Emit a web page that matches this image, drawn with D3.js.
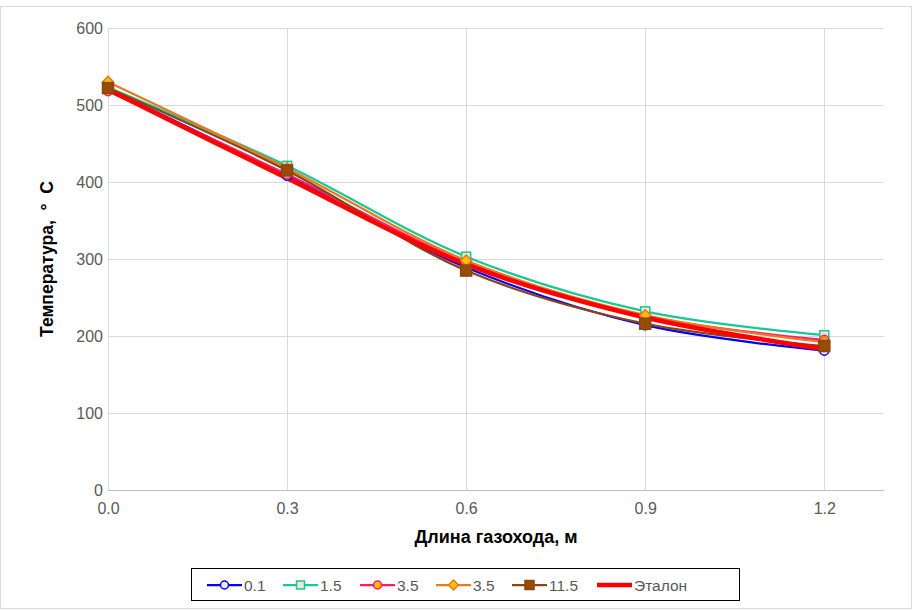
<!DOCTYPE html>
<html><head><meta charset="utf-8">
<script src="https://cdn.jsdelivr.net/npm/d3@7"></script>
<style>body{margin:0;background:#fff;}svg{display:block;font-family:"Liberation Sans",Arial,sans-serif;}</style>
</head><body><svg id="c" width="913" height="610"></svg>
<script>
const xValues = [0.0, 0.3, 0.6, 0.9, 1.2];
const seriesNames = ["0.1", "1.5", "3.5", "3.5", "11.5", "Эталон"];
const s01 = [521, 408, 289, 214, 181];
const s15 = [523, 421, 303, 232, 201];
const s35a = [518, 410, 296, 226, 195];
const s35b = [530, 418, 298, 227, 192];
const s115 = [522, 415, 285, 216, 187];
const etalon = [520, 405, 293, 224, 183];
const xTicks = [0.0, 0.3, 0.6, 0.9, 1.2];
const yTicks = [0, 100, 200, 300, 400, 500, 600];

const series = [
  {name: seriesNames[0], values: s01, color: "#0000ff", marker: "circle", fill: "#f2e6d9", w: 2.25},
  {name: seriesNames[1], values: s15, color: "#1ac795", marker: "square", fill: "#f2e6d9", w: 2.25},
  {name: seriesNames[2], values: s35a, color: "#ff1a6e", marker: "circle", fill: "#ffc000", w: 2.25},
  {name: seriesNames[3], values: s35b, color: "#e8791c", marker: "diamond", fill: "#ffc000", w: 2.25},
  {name: seriesNames[4], values: s115, color: "#8b4512", marker: "square", fill: "#994c00", w: 2.25},
  {name: seriesNames[5], values: etalon, color: "#ff0000", marker: null, fill: null, w: 4.5}
];

const svg = d3.select("#c");
svg.append("rect").attr("x",0.5).attr("y",6.5).attr("width",911).attr("height",602)
  .attr("fill","#fff").attr("stroke","#d9d9d9");

const x = d3.scaleLinear().domain([0, 1.3]).range([108, 884]);
const y = d3.scaleLinear().domain([0, 600]).range([490, 28]);

// gridlines
svg.append("g").selectAll("line").data(yTicks.filter(d=>d>0)).join("line")
  .attr("x1", x(0)).attr("x2", x(1.3)).attr("y1", d=>y(d)+0.5).attr("y2", d=>y(d)+0.5)
  .attr("stroke","#d9d9d9").attr("stroke-width",1);
svg.append("g").selectAll("line").data(xTicks).join("line")
  .attr("x1", d=>Math.round(x(d))+0.5).attr("x2", d=>Math.round(x(d))+0.5).attr("y1", y(0)).attr("y2", y(600))
  .attr("stroke","#d9d9d9").attr("stroke-width",1);
// bottom axis line
svg.append("line").attr("x1", x(0)).attr("x2", x(1.3)).attr("y1", y(0)+0.5).attr("y2", y(0)+0.5)
  .attr("stroke","#bfbfbf").attr("stroke-width",1);

// axes labels via d3 axes
const xAxis = d3.axisBottom(x).tickValues(xTicks).tickFormat(d3.format(".1f")).tickSize(0).tickPadding(13);
const gx = svg.append("g").attr("transform",`translate(0,${y(0)})`).call(xAxis);
gx.select(".domain").remove();
gx.selectAll("text").attr("fill","#595959").style("font-size","16px").style("font-family","'Liberation Sans',Arial,sans-serif");

const yAxis = d3.axisLeft(y).tickValues(yTicks).tickFormat(d3.format("d")).tickSize(0).tickPadding(5);
const gy = svg.append("g").attr("transform",`translate(${x(0)},0)`).call(yAxis);
gy.select(".domain").remove();
gy.selectAll("text").attr("fill","#595959").style("font-size","16px").style("font-family","'Liberation Sans',Arial,sans-serif");

// titles
svg.append("text").attr("x", (x(0)+x(1.3))/2).attr("y", 543).attr("text-anchor","middle")
  .style("font-size","18px").style("font-weight","bold").attr("fill","#000").text("Длина газохода, м");
svg.append("text").attr("transform",`translate(53,${(y(0)+y(600))/2}) rotate(-90)`).attr("text-anchor","middle")
  .style("font-size","17.5px").style("font-weight","bold").attr("fill","#000").attr("xml:space","preserve").text("Температура,  °  С");

const line = d3.line().x((d,i)=>x(xValues[i])).y(d=>y(d)).curve(d3.curveCatmullRom.alpha(0.5));

const gLines = svg.append("g");
series.forEach(s=>{
  gLines.append("path").attr("d", line(s.values)).attr("fill","none")
    .attr("stroke", s.color).attr("stroke-width", s.w).attr("stroke-linejoin","round").attr("stroke-linecap","round");
});

function drawMarker(g, type, cx, cy, color, fill, size) {
  if (type === "circle") {
    g.append("circle").attr("cx",cx).attr("cy",cy).attr("r",size/2).attr("fill",fill).attr("stroke",color).attr("stroke-width",1.5);
  } else if (type === "square") {
    g.append("rect").attr("x",cx-size/2).attr("y",cy-size/2).attr("width",size).attr("height",size).attr("fill",fill).attr("stroke",color).attr("stroke-width",1.5);
  } else if (type === "diamond") {
    const r = size/2+1;
    g.append("path").attr("d",`M${cx},${cy-r}L${cx+r},${cy}L${cx},${cy+r}L${cx-r},${cy}Z`).attr("fill",fill).attr("stroke",color).attr("stroke-width",1.5);
  }
}
const gMarkers = svg.append("g");
series.forEach(s=>{
  if (!s.marker) return;
  s.values.forEach((v,i)=>{
    drawMarker(gMarkers, s.marker, x(xValues[i]), y(v), s.color, s.fill, s.marker==="square" && s.name==="11.5" ? 11 : 9);
  });
});

// legend
const lg = svg.append("g");
lg.append("rect").attr("x",191.5).attr("y",568.5).attr("width",548).attr("height",32).attr("fill","#fff").attr("stroke","#000").attr("stroke-width",1);
const legX = [207, 283, 360, 436, 512, 597];
const ly = 585;
series.forEach((s,i)=>{
  const x0 = legX[i];
  lg.append("line").attr("x1",x0).attr("x2",x0+35).attr("y1",ly).attr("y2",ly)
    .attr("stroke",s.color).attr("stroke-width",s.w);
  if (s.marker) drawMarker(lg, s.marker, x0+17.5, ly, s.color, s.fill, s.name==="11.5"?9:8);
  lg.append("text").attr("x",x0+37).attr("y",ly+5.5).style("font-size","15.5px").attr("fill","#595959").text(s.name);
});
</script></body></html>
